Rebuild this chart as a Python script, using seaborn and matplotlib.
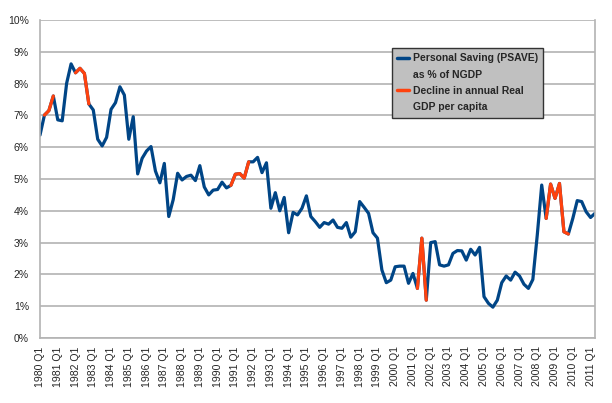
import numpy as np
import pandas as pd
import matplotlib
matplotlib.use("Agg")
import matplotlib.pyplot as plt
from matplotlib.lines import Line2D
import seaborn as sns

# personal saving rate, % of NGDP, quarterly 1980 Q1 .. 2011 Q2
psave = [
    6.38, 7.01, 7.15, 7.61, 6.86, 6.83, 8.01, 8.62,
    8.34, 8.48, 8.32, 7.36, 7.17, 6.25, 6.04, 6.31,
    7.19, 7.40, 7.90, 7.64, 6.25, 6.96, 5.16, 5.65,
    5.88, 6.02, 5.25, 4.88, 5.49, 3.82, 4.35, 5.18,
    4.97, 5.08, 5.12, 4.95, 5.42, 4.75, 4.50, 4.65,
    4.67, 4.90, 4.72, 4.80, 5.15, 5.17, 5.03, 5.54,
    5.54, 5.68, 5.20, 5.51, 4.08, 4.57, 4.00, 4.42,
    3.31, 3.95, 3.87, 4.08, 4.47, 3.82, 3.66, 3.48,
    3.63, 3.58, 3.71, 3.48, 3.45, 3.63, 3.17, 3.34,
    4.29, 4.11, 3.92, 3.31, 3.14, 2.14, 1.74, 1.82,
    2.24, 2.26, 2.26, 1.72, 2.03, 1.56, 3.14, 1.19,
    3.00, 3.03, 2.30, 2.26, 2.30, 2.66, 2.75, 2.74,
    2.45, 2.79, 2.61, 2.85, 1.30, 1.09, 0.97, 1.19,
    1.74, 1.95, 1.82, 2.07, 1.95, 1.69, 1.56, 1.84,
    3.24, 4.81, 3.76, 4.84, 4.39, 4.86, 3.34, 3.27,
    3.76, 4.32, 4.29, 3.97, 3.79, 3.92,
]

# quarters (index ranges, inclusive) with a decline in annual real GDP per capita
decline_spans = [(1, 3), (8, 11), (43, 47), (85, 87), (114, 119)]

first_year = 1980
n = len(psave)
quarters = [f"{first_year + i // 4} Q{i % 4 + 1}" for i in range(n)]

df = pd.DataFrame({"idx": np.arange(n), "psave": psave})

# one row per point of each orange stretch, tagged with its stretch number
rows = []
for k, (a, b) in enumerate(decline_spans):
    for i in range(a, b + 1):
        rows.append({"idx": i, "psave": psave[i], "span": k})
dec = pd.DataFrame(rows)

sns.set_style("white")
plt.rcParams["font.family"] = ["Liberation Sans", "DejaVu Sans"]

BLUE = "#004586"
ORANGE = "#ff420e"
GRID = "#b3b3b3"

fig = plt.figure(figsize=(6.12, 4.03), dpi=100)
ax = fig.add_axes([40 / 612, 65 / 403, 555 / 612, 318 / 403])

sns.lineplot(data=df, x="idx", y="psave", ax=ax, color=BLUE, lw=2.3, legend=False)
sns.lineplot(data=dec, x="idx", y="psave", units="span", estimator=None,
             ax=ax, color=ORANGE, lw=2.3, legend=False)

ax.set_xlim(0, n - 1)
ax.set_ylim(0, 10)
ax.set_yticks(range(0, 11))
ax.set_yticklabels([f"{v}%" for v in range(0, 11)], fontsize=7.5)
ax.yaxis.grid(True, color=GRID, lw=1.2)
ax.set_axisbelow(True)

major = list(range(0, n, 4))
ax.set_xticks(major)
ax.set_xticklabels([quarters[i] for i in major], rotation=90, fontsize=7.6)
ax.set_xticks(range(n), minor=True)
ax.tick_params(axis="x", which="both", length=3, color=GRID, width=0.8, pad=3)
ax.tick_params(axis="y", length=5, color=GRID, width=1.0, pad=3)
ax.set_xlabel("")
ax.set_ylabel("")

for side in ["left", "bottom", "right"]:
    ax.spines[side].set_color(GRID)
    ax.spines[side].set_linewidth(1.2)
ax.spines["top"].set_visible(False)

# legend: handle sits on the first line of each two-line entry
blank = Line2D([], [], color="none")
handles = [Line2D([], [], color=BLUE, lw=2.5), blank,
           Line2D([], [], color=ORANGE, lw=2.5), blank]
labels = ["Personal Saving (PSAVE)", "as % of NGDP",
          "Decline in annual Real", "GDP per capita"]
leg = ax.legend(handles, labels, loc="upper left", bbox_to_anchor=(0.634, 0.912),
                prop={"size": 7.45, "weight": "bold"},
                frameon=True, fancybox=False, facecolor="#c0c0c0",
                edgecolor="#333333", framealpha=1, handlelength=1.2,
                handletextpad=0.3, borderpad=0.5, labelspacing=0.62,
                borderaxespad=0)
leg.get_frame().set_linewidth(1.0)

fig.savefig("out.png", dpi=100)
